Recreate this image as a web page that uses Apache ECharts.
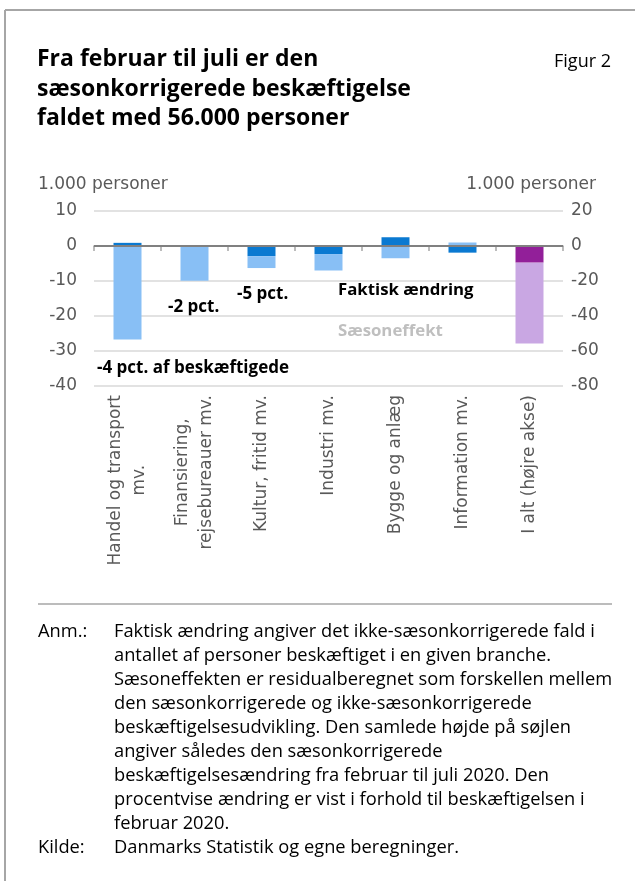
<!DOCTYPE html>
<html>
<head>
<meta charset="utf-8">
<script src="https://cdn.jsdelivr.net/npm/echarts@6/dist/echarts.min.js"></script>
<style>
html,body{margin:0;padding:0;background:#fff;}
#c{width:635px;height:881px;}
</style>
</head>
<body>
<div id="c"></div>
<script>
const categories = ['Handel og transport\nmv.', 'Finansiering,\nrejsebureauer mv.', 'Kultur, fritid mv.', 'Industri mv.', 'Bygge og anlæg', 'Information mv.', 'I alt (højre akse)'];
// 1.000 personer, left axis (industries)
const faktisk = [0.9, 0, -2.9, -2.3, 2.5, -1.9, null];
const saeson = [-26.7, -9.9, -3.4, -4.7, -3.5, 1.0, null];
// right axis (total)
const faktiskTotal = [null, null, null, null, null, null, -9.5];
const saesonTotal = [null, null, null, null, null, null, -46.2];
const leftTicks = {min: -40, max: 10, interval: 10};
const rightTicks = {min: -80, max: 20, interval: 20};
const title = 'Fra februar til juli er den\nsæsonkorrigerede beskæftigelse\nfaldet med 56.000 personer';
const noteLines = [
  'Faktisk ændring angiver det ikke-sæsonkorrigerede fald i',
  'antallet af personer beskæftiget i en given branche.',
  'Sæsoneffekten er residualberegnet som forskellen mellem',
  'den sæsonkorrigerede og ikke-sæsonkorrigerede',
  'beskæftigelsesudvikling. Den samlede højde på søjlen',
  'angiver således den sæsonkorrigerede',
  'beskæftigelsesændring fra februar til juli 2020. Den',
  'procentvise ændring er vist i forhold til beskæftigelsen i',
  'februar 2020.'
];
const source = 'Danmarks Statistik og egne beregninger.';

const axisFont = '"DejaVu Sans", "Open Sans", sans-serif';
const textFont = '"Open Sans", "Noto Sans", sans-serif';
const grey = '#595959';
const axisSize = 17;

const chart = echarts.init(document.getElementById('c'), null, {renderer: 'canvas'});
const barW = 28;
chart.setOption({
  animation: false,
  grid: {left: 94, right: 72, top: 211, bottom: 495, containLabel: false},
  xAxis: {
    type: 'category',
    data: categories,
    axisLine: {show: true, lineStyle: {color: '#a6a6a6', width: 1.5}},
    axisTick: {show: true, length: 5, lineStyle: {color: '#a6a6a6', width: 1.5}},
    axisLabel: {
      rotate: 90, margin: 9, color: grey, fontSize: axisSize, fontFamily: axisFont, lineHeight: 24,
      formatter: v => v.split('\n').map(s => '{a|' + s + '}').join('\n'),
      rich: {a: {align: 'center', color: grey, fontSize: axisSize, fontFamily: axisFont, lineHeight: 24}}
    }
  },
  yAxis: [
    {
      type: 'value', min: leftTicks.min, max: leftTicks.max, interval: leftTicks.interval,
      axisLine: {show: false}, axisTick: {show: false},
      axisLabel: {color: grey, fontSize: axisSize, fontFamily: axisFont, margin: 17, padding: [4, 0, 0, 0]},
      splitLine: {show: true, lineStyle: {color: '#d9d9d9', width: 1.5}}
    },
    {
      type: 'value', min: rightTicks.min, max: rightTicks.max, interval: rightTicks.interval,
      axisLine: {show: false}, axisTick: {show: false},
      axisLabel: {color: grey, fontSize: axisSize, fontFamily: axisFont, margin: 8, padding: [4, 0, 0, 0]},
      splitLine: {show: false}
    }
  ],
  series: [
    {type: 'bar', name: 'Faktisk ændring', stack: 'L', yAxisIndex: 0, data: faktisk, barWidth: barW, barGap: '-100%',
      itemStyle: {color: '#0a79d1'},
      markLine: {silent: true, symbol: 'none', label: {show: false},
        lineStyle: {color: '#808080', width: 2, type: 'solid'}, data: [{yAxis: 0}]}},
    {type: 'bar', name: 'Sæsoneffekt', stack: 'L', yAxisIndex: 0, data: saeson, barWidth: barW, barGap: '-100%',
      itemStyle: {color: '#88bff5'}},
    {type: 'bar', name: 'Faktisk ændring (i alt)', stack: 'R', yAxisIndex: 1, data: faktiskTotal, barWidth: barW, barGap: '-100%',
      itemStyle: {color: '#921f99'}},
    {type: 'bar', name: 'Sæsoneffekt (i alt)', stack: 'R', yAxisIndex: 1, data: saesonTotal, barWidth: barW, barGap: '-100%',
      itemStyle: {color: '#c9a7e3'}}
  ],
  graphic: [
    {type: 'line', shape: {x1: 5, y1: 10, x2: 635, y2: 10}, style: {stroke: '#a6a6a6', lineWidth: 2}},
    {type: 'line', shape: {x1: 5, y1: 10, x2: 5, y2: 881}, style: {stroke: '#a6a6a6', lineWidth: 2}},
    {type: 'text', left: 37, top: 45, style: {text: title, font: 'bold 23px ' + textFont, fill: '#000', lineHeight: 29.5}},
    {type: 'text', x: 611, y: 62, style: {text: 'Figur 2', font: '18px ' + textFont, fill: '#000', align: 'right', verticalAlign: 'middle'}},
    {type: 'text', x: 38, y: 185, style: {text: '1.000 personer', font: axisSize + 'px ' + axisFont, fill: grey, verticalAlign: 'middle'}},
    {type: 'text', x: 596, y: 185, style: {text: '1.000 personer', font: axisSize + 'px ' + axisFont, fill: grey, align: 'right', verticalAlign: 'middle'}},
    {type: 'text', x: 97, y: 368, style: {text: '-4 pct. af beskæftigede', font: 'bold 17px ' + textFont, fill: '#000', verticalAlign: 'middle'}},
    {type: 'text', x: 168, y: 307, style: {text: '-2 pct.', font: 'bold 17px ' + textFont, fill: '#000', verticalAlign: 'middle'}},
    {type: 'text', x: 237, y: 294, style: {text: '-5 pct.', font: 'bold 17px ' + textFont, fill: '#000', verticalAlign: 'middle'}},
    {type: 'text', x: 338, y: 290, style: {text: 'Faktisk ændring', font: 'bold 16.8px ' + textFont, fill: '#000', verticalAlign: 'middle'}},
    {type: 'text', x: 338, y: 331, style: {text: 'Sæsoneffekt', font: 'bold 16.8px ' + textFont, fill: '#bfbfbf', verticalAlign: 'middle'}},
    {type: 'line', shape: {x1: 38, y1: 604, x2: 612, y2: 604}, style: {stroke: '#a6a6a6', lineWidth: 1.5}},
    {type: 'text', left: 38, top: 620, style: {text: 'Anm.:', font: '18.3px ' + textFont, fill: '#000', lineHeight: 24}},
    {type: 'text', left: 114, top: 620, style: {text: noteLines.join('\n'), font: '18.3px ' + textFont, fill: '#000', lineHeight: 24}},
    {type: 'text', left: 38, top: 836, style: {text: 'Kilde:', font: '18.3px ' + textFont, fill: '#000', lineHeight: 24}},
    {type: 'text', left: 114, top: 836, style: {text: source, font: '18.3px ' + textFont, fill: '#000', lineHeight: 24}}
  ]
});
</script>
</body>
</html>
